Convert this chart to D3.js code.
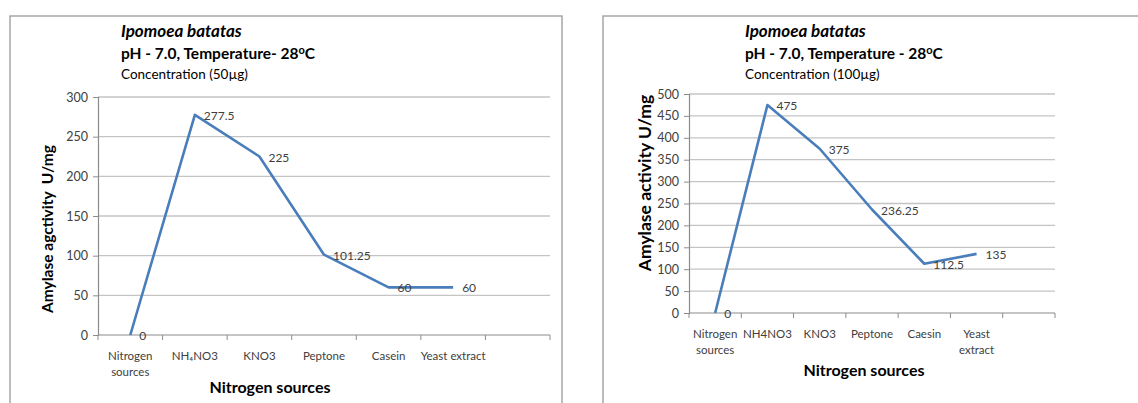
<!DOCTYPE html>
<html>
<head>
<meta charset="utf-8">
<script src="https://cdn.jsdelivr.net/npm/d3@7/dist/d3.min.js"></script>
<style>
  html, body { margin: 0; padding: 0; background: #fff; }
  svg { display: block; }
  text { font-family: Lato, "Open Sans", sans-serif; }
</style>
</head>
<body>
<svg id="chart" width="1138" height="403"></svg>
<script>
// Nitrogen source categories (last slot is an empty category on the axis)
const categoriesA = ["Nitrogen sources", "NH\u2084NO3", "KNO3", "Peptone", "Casein", "Yeast extract", ""];
const valuesA = [0, 277.5, 225, 101.25, 60, 60];
const ticksA = [0, 50, 100, 150, 200, 250, 300];

const categoriesB = ["Nitrogen sources", "NH4NO3", "KNO3", "Peptone", "Caesin", "Yeast extract", ""];
const valuesB = [0, 475, 375, 236.25, 112.5, 135];
const ticksB = [0, 50, 100, 150, 200, 250, 300, 350, 400, 450, 500];

const svg = d3.select("#chart");

function drawPanel(cfg) {
  const g = svg.append("g");

  // outer frame
  g.append("rect")
    .attr("x", cfg.frame[0]).attr("y", cfg.frame[1])
    .attr("width", cfg.frame[2]).attr("height", cfg.frame[3])
    .attr("fill", "none").attr("stroke", "#a6a6a6").attr("stroke-width", 1.5);

  // titles
  g.append("text").attr("x", cfg.titleX).attr("y", 37)
    .attr("font-size", 17).attr("font-weight", "bold").attr("font-style", "italic")
    .attr("fill", "#000").text("Ipomoea batatas");
  const t2 = g.append("text").attr("x", cfg.titleX).attr("y", 59)
    .attr("font-size", 15.5).attr("font-weight", "bold").attr("fill", "#000");
  t2.append("tspan").text(cfg.subtitle);
  t2.append("tspan").attr("font-size", 11).attr("dy", -5).text("o");
  t2.append("tspan").attr("dy", 5).text("C");
  g.append("text").attr("x", cfg.titleX).attr("y", 79)
    .attr("font-size", 13.5).attr("fill", "#000").text(cfg.conc);

  const x = d3.scaleBand().domain(d3.range(cfg.categories.length))
    .range([cfg.left, cfg.right]);
  const y = d3.scaleLinear().domain([0, d3.max(cfg.ticks)])
    .range([cfg.bottom, cfg.top]);

  // horizontal gridlines
  g.append("g").selectAll("line").data(cfg.ticks.filter(d => d > 0)).join("line")
    .attr("x1", cfg.left).attr("x2", cfg.right)
    .attr("y1", d => y(d)).attr("y2", d => y(d))
    .attr("stroke", "#c4c4c4").attr("stroke-width", 1.3);

  // y axis
  const yAxis = g.append("g").attr("transform", `translate(${cfg.left},0)`)
    .call(d3.axisLeft(y).tickValues(cfg.ticks).tickSize(5).tickPadding(5));
  yAxis.select(".domain").attr("stroke", "#8c8c8c").attr("stroke-width", 1.2);
  yAxis.selectAll(".tick line").attr("stroke", "#8c8c8c");
  yAxis.selectAll(".tick text").attr("font-size", 12.5).attr("fill", "#404040")
    .attr("font-family", "Lato, 'Open Sans', sans-serif");

  // x axis with ticks at band boundaries
  g.append("line").attr("x1", cfg.left).attr("x2", cfg.right)
    .attr("y1", cfg.bottom).attr("y2", cfg.bottom)
    .attr("stroke", "#8c8c8c").attr("stroke-width", 1.2);
  const bounds = d3.range(cfg.categories.length + 1).map(i =>
    i < cfg.categories.length ? x(i) : cfg.right);
  g.append("g").selectAll("line").data(bounds).join("line")
    .attr("x1", d => d).attr("x2", d => d)
    .attr("y1", cfg.bottom).attr("y2", cfg.bottom + 5)
    .attr("stroke", "#8c8c8c");

  // category labels (wrapped)
  cfg.categories.forEach((c, i) => {
    const lines = cfg.wrap.includes(c) ? c.split(" ") : [c];
    const t = g.append("text").attr("text-anchor", "middle")
      .attr("font-size", 11.5).attr("fill", "#404040");
    lines.forEach((ln, k) => {
      t.append("tspan").attr("x", x(i) + x.bandwidth() / 2)
        .attr("y", cfg.bottom + 25 + k * 16).text(ln);
    });
  });

  // axis titles
  g.append("text").attr("text-anchor", "middle")
    .attr("x", cfg.xTitle[0]).attr("y", cfg.xTitle[1])
    .attr("font-size", 16).attr("font-weight", "bold").attr("fill", "#000")
    .text("Nitrogen sources");
  g.append("text").attr("text-anchor", "middle")
    .attr("transform", `translate(${cfg.yTitle[0]},${cfg.yTitle[1]}) rotate(-90)`)
    .attr("font-size", cfg.yTitleSize).attr("font-weight", "bold").attr("fill", "#000")
    .attr("xml:space", "preserve")
    .text(cfg.yLabel);

  // data line
  const line = d3.line()
    .x((d, i) => x(i) + x.bandwidth() / 2)
    .y(d => y(d));
  g.append("path").datum(cfg.values)
    .attr("d", line).attr("fill", "none")
    .attr("stroke", "#4a7ebb").attr("stroke-width", 2.6)
    .attr("stroke-linejoin", "round");

  // value labels
  g.append("g").selectAll("text").data(cfg.values).join("text")
    .attr("x", (d, i) => x(i) + x.bandwidth() / 2 + 9)
    .attr("y", d => y(d) + 5)
    .attr("font-size", 12).attr("fill", "#404040")
    .text(d => d);
}

drawPanel({
  frame: [10, 16, 552, 400],
  titleX: 121,
  subtitle: "pH - 7.0, Temperature- 28",
  conc: "Concentration (50\u00b5g)",
  categories: categoriesA, values: valuesA, ticks: ticksA,
  wrap: ["Nitrogen sources"],
  left: 98, right: 550, top: 97, bottom: 335,
  xTitle: [270, 393], yTitle: [53, 229], yTitleSize: 15.5,
  yLabel: "Amylase agctivity  U/mg"
});

drawPanel({
  frame: [603, 16, 560, 400],
  titleX: 745,
  subtitle: "pH - 7.0, Temperature - 28",
  conc: "Concentration (100\u00b5g)",
  categories: categoriesB, values: valuesB, ticks: ticksB,
  wrap: ["Nitrogen sources", "Yeast extract"],
  left: 689, right: 1055, top: 94, bottom: 313,
  xTitle: [864, 376], yTitle: [651, 183], yTitleSize: 17.5,
  yLabel: "Amylase activity U/mg"
});
</script>
</body>
</html>
